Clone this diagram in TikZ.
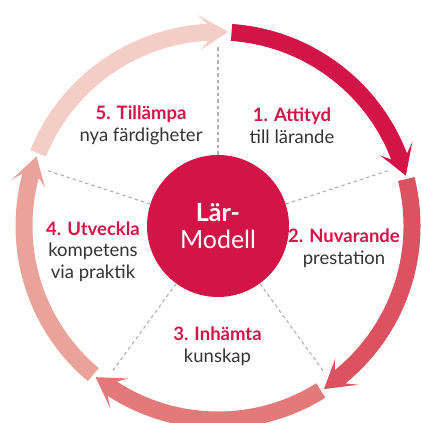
\documentclass[tikz,border=0pt]{standalone}
\usepackage{fontspec}
\setmainfont{Lato}
\definecolor{crimson}{HTML}{D31446}
\definecolor{stepB}{HTML}{DC5261}
\definecolor{stepC}{HTML}{E4797A}
\definecolor{stepD}{HTML}{E9A39B}
\definecolor{stepE}{HTML}{F4CDC7}
\definecolor{ink}{HTML}{333333}
\definecolor{spokegrey}{HTML}{B0B0B0}
% curved ring arrow: #1 tail angle, #2 tip angle, #3 colour
\newcommand\ringarrow[3]{%
  \fill[#3] (#1:202.5) arc[start angle=#1, end angle=#2+6, radius=202.5]
    -- (#2+8.5:212) -- (#2:194.5) -- (#2+8.5:177) -- (#2+6:185.5)
    arc[start angle=#2+6, end angle=#1, radius=185.5] -- cycle;}
\begin{document}
\begin{tikzpicture}[x=1pt,y=1pt,
  spoke/.style={draw=spokegrey, line width=1.1pt, dash pattern=on 3.5pt off 3pt},
  steplabel/.style={align=center, inner sep=0pt, text=ink,
    font=\fontsize{18.5}{21.5}\selectfont},
  hubstyle/.style={circle, fill=crimson, minimum size=142pt, inner sep=0pt,
    text=white, align=center, font=\fontsize{25}{26.5}\selectfont}]
\useasboundingbox (0,0) rectangle (421,423);
\begin{scope}[shift={(218,197)}]
  % five arrows of the cycle
  \ringarrow{86}{15}{crimson}
  \ringarrow{14}{-57}{stepB}
  \ringarrow{-58}{-129}{stepC}
  \ringarrow{-130}{-201}{stepD}
  \ringarrow{-202}{-273}{stepE}
  % hub
  \node[hubstyle] (hub) at (0,0) {\textbf{Lär-}\\Modell};
  % dividers between the steps
  \foreach \a in {90,18,-54,-126,-198} {
    \coordinate (rim\a) at (\a:180);
    \draw[spoke] (hub.\a) -- (rim\a);
  }
\end{scope}
\node[steplabel] (s1) at (292,297.5) {\textcolor{crimson}{\textbf{1. Attityd}}\\till lärande};
\node[steplabel] (s2) at (344,175) {\textcolor{crimson}{\textbf{2. Nuvarande}}\\prestation};
\node[steplabel] (s3) at (217.5,77) {\textcolor{crimson}{\textbf{3. Inhämta}}\\kunskap};
\node[steplabel] (s4) at (93,171.5) {\textcolor{crimson}{\textbf{4. Utveckla}}\\kompetens\\via praktik};
\node[steplabel] (s5) at (141,297.5) {\textcolor{crimson}{\textbf{5. Tillämpa}}\\nya färdigheter};
\end{tikzpicture}
\end{document}
